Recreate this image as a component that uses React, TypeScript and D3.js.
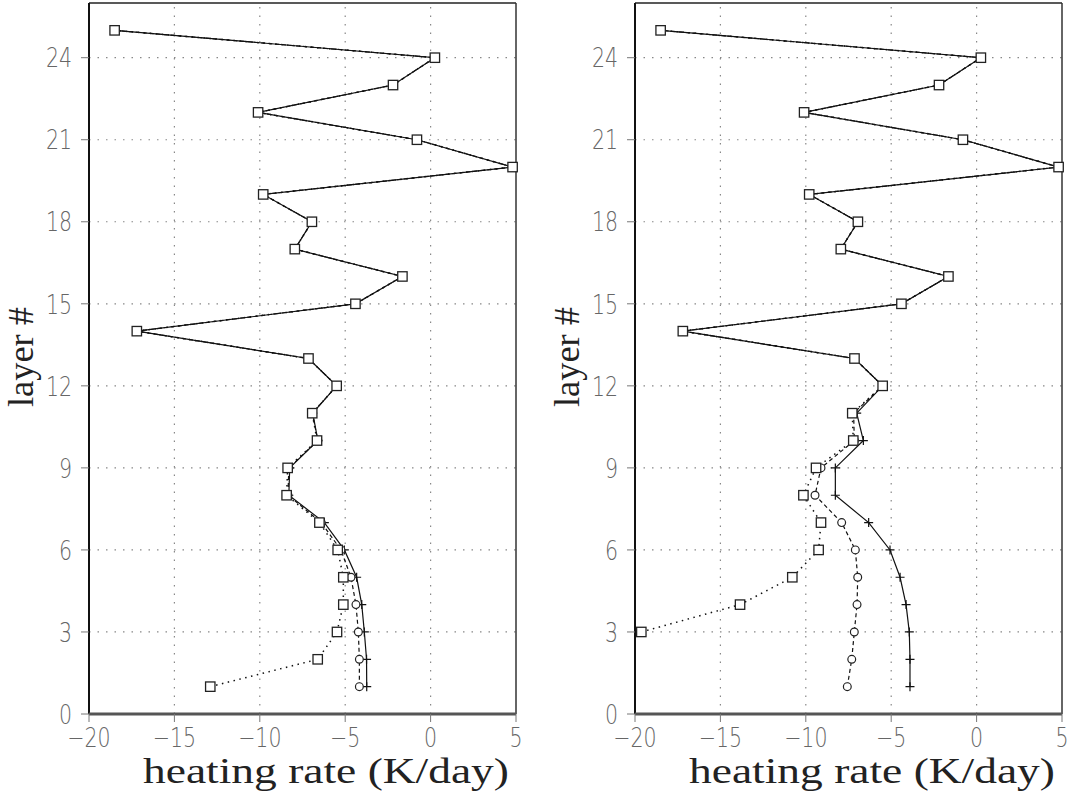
import React from 'react'
import * as d3 from 'd3'

// layer index (1 = bottom)
const layers = [1, 2, 3, 4, 5, 6, 7, 8, 9, 10, 11, 12, 13, 14, 15, 16, 17, 18, 19, 20, 21, 22, 23, 24, 25]

// layers 12..25, identical for every run
const upperRate = [-5.5, -7.15, -17.2, -4.4, -1.65, -7.95, -6.95, -9.8, 4.8, -0.8, -10.1, -2.2, 0.25, -18.5]

// layers 1..11, left panel
const leftSquare = [-12.9, -6.61, -5.48, -5.11, -5.11, -5.44, -6.51, -8.43, -8.37, -6.65, -6.93]
const leftCircle = [-4.17, -4.17, -4.23, -4.37, -4.66, -5.25, -6.4, -8.35, -8.3, -6.6, -6.93]
const leftPlus = [-3.74, -3.75, -3.88, -4.03, -4.33, -5.05, -6.22, -8.3, -8.25, -6.6, -6.9]

// layers 1..11, right panel (squares stop at layer 3)
const rightSquare = [null, null, -19.63, -13.85, -10.79, -9.25, -9.11, -10.14, -9.4, -7.22, -7.28]
const rightCircle = [-7.57, -7.31, -7.16, -7.0, -6.96, -7.1, -7.9, -9.46, -9.11, -7.16, -7.2]
const rightPlus = [-3.9, -3.9, -3.94, -4.13, -4.48, -5.07, -6.32, -8.27, -8.27, -6.63, -7.02]

const yTickValues = [0, 3, 6, 9, 12, 15, 18, 21, 24]
const xTitle = 'heating rate (K/day)'
const yTitle = 'layer #'

const PW = 427
const TOP = 3
const BOTTOM = 714
const SX = 0.76 // squeeze for the tick digits
const tickFont = '"DejaVu Sans", sans-serif'
const titleFont = '"Liberation Serif", serif'

type Pt = { layer: number, v: number | null }

const buildSeries = (lower: (number | null)[]): Pt[] =>
    layers.map((l, i) => ({ layer: l, v: i < lower.length ? lower[i] : upperRate[i - lower.length] }))

const Panel = ({ x0, square, circle, plus }: { x0: number, square: (number | null)[], circle: number[], plus: number[] }) => {
    const x = d3.scaleLinear().domain([-20, 5]).range([x0, x0 + PW])
    const y = d3.scaleLinear().domain([0, 26]).range([BOTTOM, TOP])
    const xTicks = x.ticks(5)
    const fmt = d3.format('d')

    const line = d3.line<Pt>()
        .defined(d => d.v != null)
        .x(d => x(d.v as number))
        .y(d => y(d.layer))

    const sq = buildSeries(square)
    const ci = buildSeries(circle)
    const pl = buildSeries(plus)

    return (
        <g>
            {/* grid */}
            {xTicks.filter(t => t > -20 && t < 5).map(t => (
                <line key={'gx' + t} x1={x(t)} x2={x(t)} y1={BOTTOM} y2={TOP}
                    stroke="#888" strokeWidth={1.2} strokeDasharray="1.5,7" />
            ))}
            {yTickValues.filter(t => t > 0).map(t => (
                <line key={'gy' + t} x1={x0} x2={x0 + PW} y1={y(t)} y2={y(t)}
                    stroke="#888" strokeWidth={1.2} strokeDasharray="1.5,7" />
            ))}

            {/* frame */}
            <line x1={x0} x2={x0 + PW} y1={TOP} y2={TOP} stroke="#222" strokeWidth={1.5} />
            <line x1={x0 + PW} x2={x0 + PW} y1={TOP} y2={BOTTOM} stroke="#333" strokeWidth={1.5} />
            <line x1={x0} x2={x0} y1={TOP} y2={BOTTOM} stroke="#111" strokeWidth={2} />
            <line x1={x0} x2={x0 + PW} y1={BOTTOM} y2={BOTTOM} stroke="#555" strokeWidth={3} />

            {/* y ticks */}
            {yTickValues.map(t => (
                <g key={'ty' + t} transform={`translate(${x0},${y(t)})`}>
                    <line x1={-8} x2={0} stroke="#777" strokeWidth={1} />
                    <g transform={`translate(-17,0) scale(${SX},1)`}>
                        <text dy="0.36em" textAnchor="end" fontFamily={tickFont} fontWeight={200}
                            fontSize={27} fill="#666">
                            {fmt(t)}
                        </text>
                    </g>
                </g>
            ))}
            {/* x ticks */}
            {xTicks.map(t => (
                <g key={'tx' + t} transform={`translate(${x(t)},${BOTTOM})`}>
                    <line y1={0} y2={8} stroke="#777" strokeWidth={1} />
                    <g transform={`translate(0,33) scale(${SX},1)`}>
                        <text textAnchor="middle" fontFamily={tickFont} fontWeight={200}
                            fontSize={27} fill="#666">
                            {fmt(t)}
                        </text>
                    </g>
                </g>
            ))}

            {/* lines */}
            <path d={line(pl) || ''} fill="none" stroke="#111" strokeWidth={1.2} />
            <path d={line(ci) || ''} fill="none" stroke="#111" strokeWidth={1.2} strokeDasharray="4,3" />
            <path d={line(sq) || ''} fill="none" stroke="#111" strokeWidth={1.5} strokeDasharray="1.5,4.5" />

            {/* markers */}
            {pl.map(d => (
                <path key={'p' + d.layer} transform={`translate(${x(d.v as number)},${y(d.layer)})`}
                    d="M-4.5,0H4.5M0,-4.5V4.5" stroke="#111" strokeWidth={1.2} fill="none" />
            ))}
            {ci.map(d => (
                <circle key={'c' + d.layer} cx={x(d.v as number)} cy={y(d.layer)} r={3.9}
                    fill="#fff" stroke="#222" strokeWidth={1.2} />
            ))}
            {sq.filter(d => d.v != null).map(d => (
                <rect key={'s' + d.layer} x={x(d.v as number) - 4.7} y={y(d.layer) - 4.7} width={9.4} height={9.4}
                    fill="#fff" stroke="#222" strokeWidth={1.3} />
            ))}

            {/* titles */}
            <text x={x0 + 237} y={783} textAnchor="middle" fontFamily={titleFont} fontSize={36} fill="#222"
                textLength={366} lengthAdjust="spacingAndGlyphs">{xTitle}</text>
            <text transform={`translate(${x0 - 56},357) rotate(-90)`} textAnchor="middle" fontFamily={titleFont}
                fontSize={36} fill="#222" textLength={100} lengthAdjust="spacingAndGlyphs">{yTitle}</text>
        </g>
    )
}

export default function App() {
    return (
        <svg width={1069} height={794} style={{ position: 'absolute', left: 0, top: 0, background: '#fff' }}>
            <rect width={1069} height={794} fill="#fff" />
            <Panel x0={89} square={leftSquare} circle={leftCircle} plus={leftPlus} />
            <Panel x0={635} square={rightSquare} circle={rightCircle} plus={rightPlus} />
        </svg>
    )
}
